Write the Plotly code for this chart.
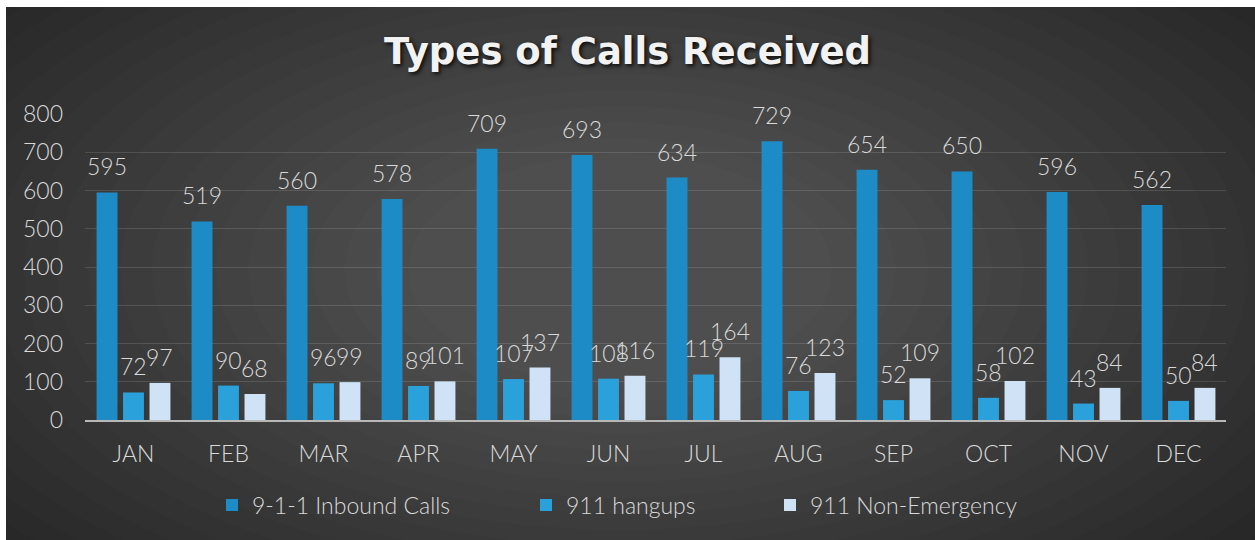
import plotly.graph_objects as go

months = ["JAN", "FEB", "MAR", "APR", "MAY", "JUN", "JUL", "AUG", "SEP", "OCT", "NOV", "DEC"]
inbound = [595, 519, 560, 578, 709, 693, 634, 729, 654, 650, 596, 562]
hangups = [72, 90, 96, 89, 107, 108, 119, 76, 52, 58, 43, 50]
non_emergency = [97, 68, 99, 101, 137, 116, 164, 123, 109, 102, 84, 84]

W, H = 1255, 540
ML, MR, MT, MB = 85, 29, 114, 120
PW, PH = W - ML - MR, H - MT - MB

FONT = "Lato"
TXT = "#d9d9d9"
BARGAP, GROUPGAP = 0.164, 0.21


def px(x):  # Pixel -> paper x
    return (x - ML) / PW


def py(y):  # Pixel (von oben) -> paper y
    return (H - MB - y) / PH


fig = go.Figure()

series = [
    ("9-1-1 Inbound Calls", inbound, "#1d8cc6", "legend", 254),
    ("911 hangups", hangups, "#2aa1da", "legend2", 568),
    ("911 Non-Emergency", non_emergency, "#d0e3f6", "legend3", 812),
]
slot = PW / len(months) * (1 - BARGAP) / len(series)

annotations = []
for i, (name, vals, col, leg, _) in enumerate(series):
    fig.add_trace(go.Bar(
        x=months, y=vals, name=name, legend=leg,
        marker=dict(color=col, line=dict(width=0)),
    ))
    # Werte-Labels etwas hoeher als plotly-"outside"
    for m, v in zip(months, vals):
        annotations.append(dict(
            x=m, y=v, xref="x", yref="y", text=str(v), showarrow=False,
            xshift=(i - 1) * slot, yshift=10, yanchor="bottom",
            font=dict(family=FONT, size=23, color=TXT, weight=300),
        ))

# dunkler Hintergrund, weisser Rand oben/links, grober radialer Verlauf
shapes = [dict(type="rect", xref="paper", yref="paper",
               x0=px(6), x1=px(W + 5), y0=py(H + 5), y1=py(7),
               fillcolor="#262626", line=dict(width=0), layer="below")]
n = 20
for i in range(n):
    rx = 820 - i * 32
    ry = 420 - i * 16
    cx, cy = 620, 270
    shapes.append(dict(type="circle", xref="paper", yref="paper",
                       x0=px(cx - rx), x1=px(cx + rx),
                       y0=py(cy + ry), y1=py(cy - ry),
                       fillcolor="rgba(255,255,255,0.0125)",
                       line=dict(width=0), layer="below"))
# weisse Raender wieder drueber legen (Kreise ragen raus)
shapes.append(dict(type="rect", xref="paper", yref="paper",
                   x0=px(-5), x1=px(W + 5), y0=py(7), y1=py(-5),
                   fillcolor="white", line=dict(width=0), layer="below"))
shapes.append(dict(type="rect", xref="paper", yref="paper",
                   x0=px(-5), x1=px(6), y0=py(H + 5), y1=py(-5),
                   fillcolor="white", line=dict(width=0), layer="below"))

legend_common = dict(orientation="h", xanchor="left", yanchor="middle",
                     y=py(505), bgcolor="rgba(0,0,0,0)",
                     font=dict(family=FONT, size=23, color=TXT, weight=300))
legends = {}
for name, vals, col, leg, tx in series:
    legends[leg] = dict(legend_common, x=px(tx - 42))

fig.update_layout(
    width=W, height=H,
    paper_bgcolor="white", plot_bgcolor="rgba(0,0,0,0)",
    margin=dict(l=ML, r=MR, t=MT, b=MB, autoexpand=False),
    barmode="group", bargap=BARGAP, bargroupgap=GROUPGAP,
    shapes=shapes, annotations=annotations,
    title=dict(text="Types of Calls Received", x=0.5, xref="container",
               xanchor="center", y=1 - 51 / H, yanchor="middle",
               font=dict(family="DejaVu Sans", size=37, color="#f2f2f2",
                         weight="bold", shadow="2px 2px 4px rgba(0,0,0,0.85)")),
    xaxis=dict(showgrid=False, ticks="", ticklabelstandoff=12, automargin=False,
               tickfont=dict(family=FONT, size=23, color=TXT, weight=300),
               showline=True, linecolor="#b8b8b8", linewidth=2),
    yaxis=dict(range=[0, 800], dtick=100, showgrid=True, automargin=False,
               gridcolor="rgba(255,255,255,0.13)", gridwidth=1,
               zeroline=False, ticklabelstandoff=21,
               tickfont=dict(family=FONT, size=23, color=TXT, weight=300)),
    showlegend=True,
    **legends,
)

# Body-Rand des Browsers entfernen, damit die Figur bei 0,0 sitzt
fig.write_html("out.html", config={"displayModeBar": False},
               post_script="document.body.style.margin='0';")
